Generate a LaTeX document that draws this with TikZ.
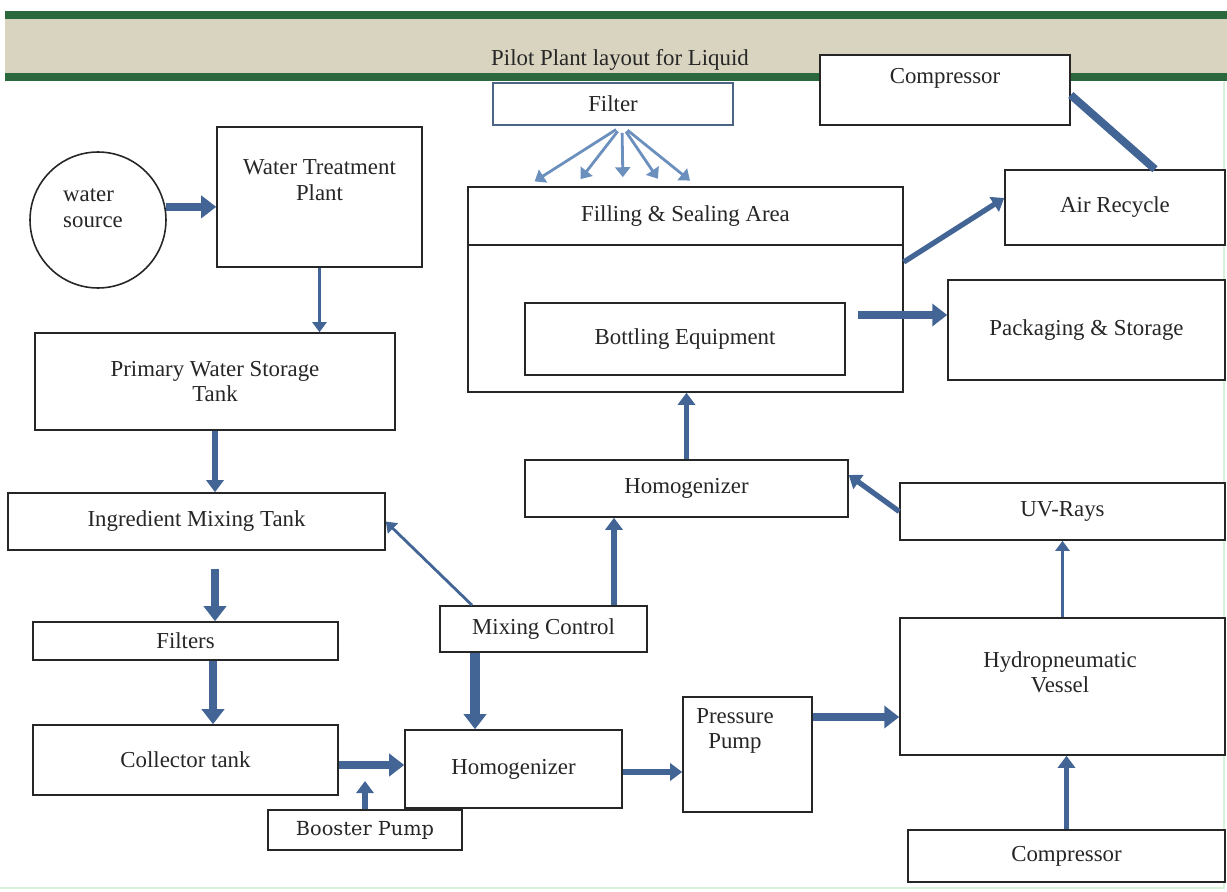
\documentclass[tikz,border=0pt]{standalone}
\usepackage{fontspec}
\setmainfont{Liberation Serif}
\newfontfamily\boostfont{DejaVu Serif}
\usetikzlibrary{arrows.meta,positioning}
\definecolor{arrblue}{RGB}{66,101,150}
\definecolor{fanblue}{RGB}{108,144,190}
\definecolor{bandgreen}{RGB}{44,104,62}
\definecolor{bandbeige}{RGB}{216,212,192}
\tikzset{
  box/.style={draw=black!85, line width=0.9pt, fill=white, text=black!85,
    font=\fontsize{13}{14.5}\selectfont, align=center, inner sep=0pt},
  txt/.style={text=black!85, font=\fontsize{13}{14.5}\selectfont, align=center, inner sep=0pt},
  fat/.style={draw=arrblue, line width=4.5pt, -{Triangle[length=0.3cm,width=0.44cm]}},
  mid/.style={draw=arrblue, line width=3pt, -{Triangle[length=0.24cm,width=0.34cm]}},
  thin/.style={draw=arrblue, line width=1.6pt, -{Triangle[length=0.2cm,width=0.28cm]}},
  fan/.style={draw=fanblue, line width=1.6pt, -{Triangle[length=0.2cm,width=0.3cm]}},
  pipe/.style={draw=arrblue, line width=4.5pt}
}
\begin{document}
\begin{tikzpicture}[x=0.02cm, y=-0.02cm]
  \useasboundingbox (0,0) rectangle (1227,892);
  %\draw [help lines, step=50] (0,0) grid (1227,892);
  % title band
  \fill[bandbeige] (5,18) rectangle (1227,74);
  \draw[bandgreen, line width=4pt] (5,15) -- (1227,15);
  \draw[bandgreen, line width=5pt] (5,77) -- (1227,77);
  \draw[green!60!black!15, line width=1pt] (1224,82) -- (1224,888) -- (0,888);
  \node[txt] (title) at (620,60) {Pilot Plant layout for Liquid};

  % left column
  \node[box, circle, minimum size=2.72cm] (src) at (98,220) {};
  \node[txt, align=left] (srctext) at (93,208) {water\\source};
  \node[box, minimum width=4.1cm, minimum height=2.8cm] (wtp) at (319.5,197) {};
  \node[txt] (wtptext) at (319.5,180) {Water Treatment\\Plant};
  \node[box, minimum width=7.2cm, minimum height=1.94cm] (pwst) at (215,381.5) {Primary Water Storage\\Tank};
  \node[box, minimum width=7.54cm, minimum height=1.14cm] (imt) at (196.5,521.5) {Ingredient Mixing Tank};
  \node[box, minimum width=6.1cm, minimum height=0.76cm] (filters) at (185.5,641) {Filters};
  \node[box, minimum width=6.1cm, minimum height=1.4cm] (coll) at (185.5,760) {Collector tank};
  \node[box, minimum width=3.88cm, minimum height=0.8cm, font=\boostfont\fontsize{11}{13}\selectfont] (boost) at (365,830) {Booster Pump};
  \coordinate (boostend) at (365,781);

  % middle
  \node[box, minimum width=4.34cm, minimum height=1.56cm] (homB) at (513.5,769) {Homogenizer};
  \node[box, minimum width=4.14cm, minimum height=0.92cm] (mix) at (543.5,629) {Mixing Control};
  \node[box, minimum width=2.58cm, minimum height=2.3cm] (pump) at (747.5,754.5) {};
  \node[txt] (pumptext) at (735,731) {Pressure\\Pump};
  \node[box, minimum width=6.46cm, minimum height=1.14cm] (homT) at (686.5,488.5) {Homogenizer};
  \node[box, minimum width=8.7cm, minimum height=4.1cm] (outer) at (685.5,289.5) {};
  \node[box, minimum width=8.7cm, minimum height=1.16cm] (fsa) at (685.5,216) {Filling \& Sealing Area};
  \node[box, minimum width=6.4cm, minimum height=1.44cm] (bott) at (685,339) {Bottling Equipment};
  \node[box, draw=fanblue!70!black, minimum width=4.8cm, minimum height=0.84cm] (filt) at (613,104) {Filter};

  % right column
  \node[box, minimum width=5cm, minimum height=1.4cm] (compT) at (945,90) {};
  \node[txt] (compTtext) at (945,78) {Compressor};
  \node[box, minimum width=4.4cm, minimum height=1.5cm] (air) at (1115,207.5) {Air Recycle};
  \node[box, minimum width=5.54cm, minimum height=2cm] (pack) at (1086.5,330) {Packaging \& Storage};
  \node[box, minimum width=6.5cm, minimum height=1.14cm] (uv) at (1062.5,511.5) {UV-Rays};
  \node[box, minimum width=6.5cm, minimum height=2.74cm] (hydro) at (1062.5,686.5) {};
  \node[txt] (hydrotext) at (1060,672) {Hydropneumatic\\Vessel};
  \node[box, minimum width=6.34cm, minimum height=1.04cm] (comp2) at (1066.5,856) {Compressor};

  % connectors
  \draw[fat] (src.11) -- (src.11 -| wtp.west);
  \draw[thin] (wtp.south) -- (wtp.south |- pwst.north);
  \draw[mid] (pwst.south) -- (pwst.south |- imt.north);
  \draw[fat, shorten <=0.36cm] ([xshift=0.37cm]imt.south) -- ([xshift=0.37cm]imt.south |- filters.north);
  \draw[fat] ([xshift=0.55cm]filters.south) -- ([xshift=0.55cm]filters.south |- coll.north);
  \draw[fat] ([yshift=-0.1cm]coll.east) -- ([yshift=-0.1cm]coll.east -| homB.west);
  \draw[mid] (boost.north) -- (boostend);
  \draw[fat, line width=5.5pt] ([xshift=-1.37cm]mix.south) -- ([xshift=-1.37cm]mix.south |- homB.north);
  \draw[mid] ([xshift=1.41cm]mix.north) -- ([xshift=1.41cm]mix.north |- homT.south);
  \draw[thin] ([xshift=-1.43cm]mix.north) -- (imt.east);
  \draw[mid] ([yshift=-0.06cm]homB.east) -- ([yshift=-0.06cm]homB.east -| pump.west);
  \draw[fat] ([yshift=0.75cm]pump.east) -- ([yshift=0.75cm]pump.east -| hydro.west);
  \draw[mid] (comp2.north) -- (comp2.north |- hydro.south);
  \draw[thin] (hydro.north) -- (hydro.north |- uv.south);
  \draw[mid] (uv.west) -- ([yshift=0.27cm]homT.east);
  \draw[mid] (homT.north) -- (homT.north |- outer.south);
  \draw[fat, shorten <=0.24cm] ([yshift=0.48cm]bott.east) -- ([yshift=0.48cm]bott.east -| pack.west);
  \draw[mid] ([yshift=0.55cm]outer.east) -- ([yshift=0.19cm]air.west);
  \draw[pipe] ([yshift=-0.1cm]compT.east) -- ([xshift=0.8cm]air.north);
  % filter fan
  \draw[fan, shorten <=0.14cm, shorten >=0.18cm] ([xshift=0.18cm]filt.south) -- ([xshift=-3.17cm]fsa.north);
  \draw[fan, shorten <=0.14cm, shorten >=0.18cm] ([xshift=0.18cm]filt.south) -- ([xshift=-2.21cm]fsa.north);
  \draw[fan, shorten <=0.14cm, shorten >=0.18cm] ([xshift=0.18cm]filt.south) -- ([xshift=-1.25cm]fsa.north);
  \draw[fan, shorten <=0.14cm, shorten >=0.18cm] ([xshift=0.18cm]filt.south) -- ([xshift=-0.45cm]fsa.north);
  \draw[fan, shorten <=0.14cm, shorten >=0.18cm] ([xshift=0.18cm]filt.south) -- ([xshift=0.23cm]fsa.north);
\end{tikzpicture}
\end{document}
